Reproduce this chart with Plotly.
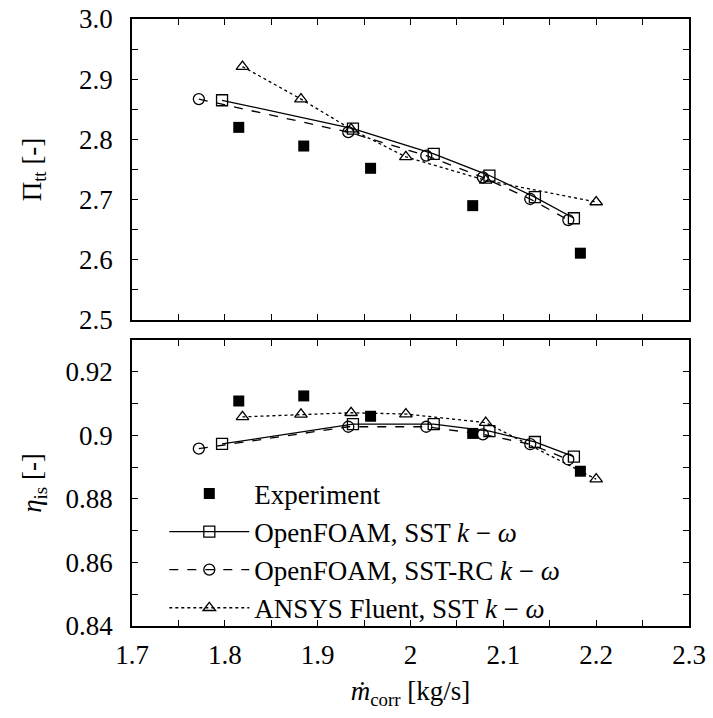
import plotly.graph_objects as go
from plotly.subplots import make_subplots

# ---- data ----
exp_x = [1.815, 1.885, 1.957, 2.067, 2.183]
exp_pi = [2.820, 2.789, 2.752, 2.690, 2.611]
exp_eta = [0.9108, 0.9124, 0.9060, 0.9006, 0.8887]

sst_x = [1.797, 1.938, 2.025, 2.085, 2.134, 2.176]
sst_pi = [2.865, 2.818, 2.776, 2.740, 2.704, 2.669]
sst_eta = [0.8973, 0.9035, 0.9035, 0.9013, 0.8979, 0.8933]

rc_x = [1.772, 1.933, 2.017, 2.078, 2.129, 2.170]
rc_pi = [2.867, 2.812, 2.773, 2.737, 2.701, 2.666]
rc_eta = [0.8958, 0.9027, 0.9027, 0.9003, 0.8972, 0.8924]

fl_x = [1.819, 1.882, 1.936, 1.995, 2.081, 2.200]
fl_pi = [2.921, 2.867, 2.817, 2.771, 2.732, 2.696]
fl_eta = [0.9058, 0.9066, 0.9071, 0.9067, 0.9040, 0.8862]

x_ticks = [1.7, 1.8, 1.9, 2.0, 2.1, 2.2, 2.3]
x_ticktext = ["1.7", "1.8", "1.9", "2", "2.1", "2.2", "2.3"]
pi_ticks = [2.5, 2.6, 2.7, 2.8, 2.9, 3.0]
pi_ticktext = ["2.5", "2.6", "2.7", "2.8", "2.9", "3.0"]
eta_ticks = [0.84, 0.86, 0.88, 0.90, 0.92]
eta_ticktext = ["0.84", "0.86", "0.88", "0.9", "0.92"]

names = ["Experiment", "OpenFOAM, SST <i>k</i> − <i>ω</i>",
         "OpenFOAM, SST-RC <i>k</i> − <i>ω</i>", "ANSYS Fluent, SST <i>k</i> − <i>ω</i>"]

FONT = "'Liberation Serif', 'Times New Roman', Times, serif"
FS = 27

fig = make_subplots(rows=2, cols=1, shared_xaxes=True, vertical_spacing=0.033)

series = [
    (exp_x, exp_pi, exp_eta, dict(mode="markers", marker=dict(symbol="square", size=11, color="black"))),
    (sst_x, sst_pi, sst_eta, dict(mode="lines+markers", line=dict(color="black", width=1.3, dash="solid"),
                                   marker=dict(symbol="square-open", size=11, color="black", line=dict(width=1.3)))),
    (rc_x, rc_pi, rc_eta, dict(mode="lines+markers", line=dict(color="black", width=1.3, dash="dash"),
                                marker=dict(symbol="circle-open", size=11, color="black", line=dict(width=1.3)))),
    (fl_x, fl_pi, fl_eta, dict(mode="lines+markers", line=dict(color="black", width=1.3, dash="dot"),
                                marker=dict(symbol="triangle-up-open", size=11, color="black", line=dict(width=1.3)))),
]

for i, (x, yp, ye, st) in enumerate(series):
    fig.add_trace(go.Scatter(x=x, y=yp, name=names[i], showlegend=False, **st), row=1, col=1)
    fig.add_trace(go.Scatter(x=x, y=ye, name=names[i], showlegend=True, **st), row=2, col=1)

axis_common = dict(showline=True, linecolor="black", linewidth=1.5, mirror="ticks",
                   ticks="inside", ticklen=6, tickwidth=1.2, tickcolor="black",
                   showgrid=False, zeroline=False,
                   tickfont=dict(family=FONT, size=FS, color="black"))

fig.update_xaxes(range=[1.7, 2.3], tickmode="array", tickvals=x_ticks, ticktext=x_ticktext,
                 minor=dict(dtick=0.05, tick0=1.7, ticks="inside", ticklen=6, tickwidth=1.2, tickcolor="black"),
                 **axis_common)
fig.update_xaxes(showticklabels=False, row=1, col=1)
fig.update_xaxes(title=dict(text="<i>ṁ</i><sub>corr</sub> [kg/s]", font=dict(family=FONT, size=FS), standoff=12),
                 ticklabelstandoff=4, row=2, col=1)

fig.update_yaxes(range=[2.5, 3.0], tickmode="array", tickvals=pi_ticks, ticktext=pi_ticktext,
                 minor=dict(dtick=0.05, tick0=2.5, ticks="inside", ticklen=6, tickwidth=1.2, tickcolor="black"),
                 title=dict(text="Π<sub>tt</sub> [-]", font=dict(family=FONT, size=FS), standoff=30),
                 ticklabelstandoff=12, row=1, col=1, **axis_common)
fig.update_yaxes(range=[0.84, 0.93], tickmode="array", tickvals=eta_ticks, ticktext=eta_ticktext,
                 minor=dict(dtick=0.01, tick0=0.84, ticks="inside", ticklen=6, tickwidth=1.2, tickcolor="black"),
                 title=dict(text="<i>η</i><sub>is</sub> [-]", font=dict(family=FONT, size=FS), standoff=16),
                 ticklabelstandoff=12, row=2, col=1, **axis_common)

fig.update_layout(
    width=713, height=718,
    margin=dict(l=132, r=24, t=19, b=92, autoexpand=False),
    plot_bgcolor="white", paper_bgcolor="white",
    font=dict(family=FONT, size=FS, color="black"),
    legend=dict(x=0.058, y=0.258, xanchor="left", yanchor="top", bgcolor="rgba(0,0,0,0)",
                font=dict(family=FONT, size=FS), itemwidth=80, tracegroupgap=0),
)
fig.layout.yaxis.domain = [0.5041, 1.0]
fig.layout.yaxis2.domain = [0.0, 0.4712]

fig.write_html("out.html")
